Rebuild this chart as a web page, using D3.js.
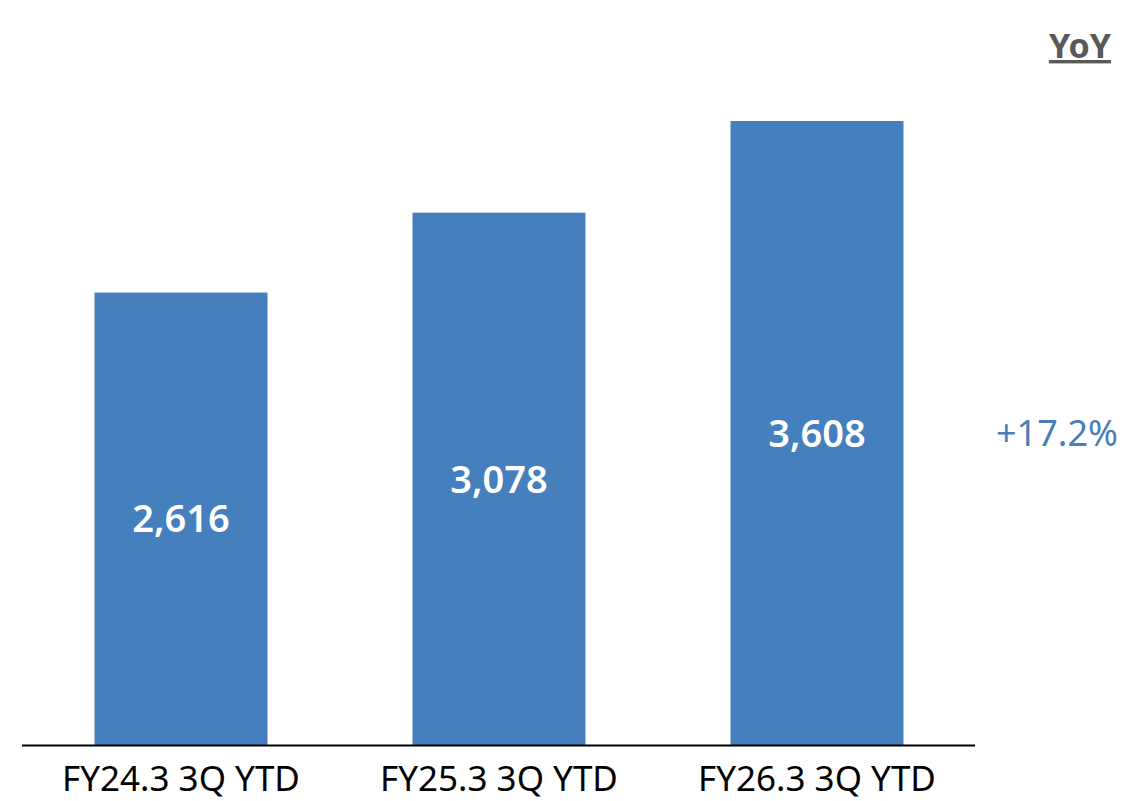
<!DOCTYPE html>
<html>
<head>
<meta charset="utf-8">
<script src="https://cdn.jsdelivr.net/npm/d3@7"></script>
<style>
  html, body { margin: 0; padding: 0; background: #ffffff; }
  svg { display: block; font-family: "Noto Sans", "Open Sans", sans-serif; }
</style>
</head>
<body>
<svg id="chart" width="1138" height="801"></svg>
<script>
// Nine-month (3Q YTD) totals by fiscal year
const categories = ["FY24.3 3Q YTD", "FY25.3 3Q YTD", "FY26.3 3Q YTD"];
const values = [2616, 3078, 3608];
const yoyLabel = "YoY";
const yoyChange = "+17.2%";

const svg = d3.select("#chart");
const baseY = 745;
const barColor = "#457fbd";

const x = d3.scaleBand()
  .domain(categories)
  .range([22, 976])
  .paddingInner(0.456)
  .paddingOuter(0.228);

const y = d3.scaleLinear()
  .domain([0, 3608])
  .range([baseY, 121]);

// Bars
svg.selectAll("rect.bar")
  .data(values)
  .join("rect")
  .attr("class", "bar")
  .attr("x", (d, i) => x(categories[i]))
  .attr("y", d => y(d))
  .attr("width", x.bandwidth())
  .attr("height", d => y(0) - y(d))
  .attr("fill", barColor);

// Value labels centred inside each bar
svg.selectAll("text.val")
  .data(values)
  .join("text")
  .attr("class", "val")
  .attr("x", (d, i) => x(categories[i]) + x.bandwidth() / 2)
  .attr("y", d => (y(d) + y(0)) / 2)
  .attr("dy", "0.36em")
  .attr("text-anchor", "middle")
  .attr("fill", "#ffffff")
  .attr("font-size", 38)
  .attr("font-weight", 600)
  .text(d => d3.format(",")(d));

// Baseline axis
const xAxis = d3.axisBottom(x).tickSize(0).tickPadding(24);
const gx = svg.append("g")
  .attr("transform", `translate(0,${baseY})`)
  .call(xAxis);
gx.select(".domain")
  .attr("d", "M22,0.5H975")
  .attr("stroke", "#000000")
  .attr("stroke-width", 2);
gx.selectAll(".tick text")
  .attr("fill", "#000000")
  .attr("font-size", 35)
  .attr("font-family", "\"Noto Sans\", \"Open Sans\", sans-serif")
  .attr("y", 46)
  .attr("dy", 0);

// YoY header and change
svg.append("text")
  .attr("x", 1111)
  .attr("y", 58)
  .attr("text-anchor", "end")
  .attr("fill", "#595959")
  .attr("font-size", 34)
  .attr("font-weight", 700)
  .attr("text-decoration", "underline")
  .text(yoyLabel);

svg.append("text")
  .attr("x", 1057)
  .attr("y", (y(values[2]) + y(0)) / 2)
  .attr("dy", "0.36em")
  .attr("text-anchor", "middle")
  .attr("fill", "#4a7ebb")
  .attr("font-size", 36)
  .text(yoyChange);
</script>
</body>
</html>
